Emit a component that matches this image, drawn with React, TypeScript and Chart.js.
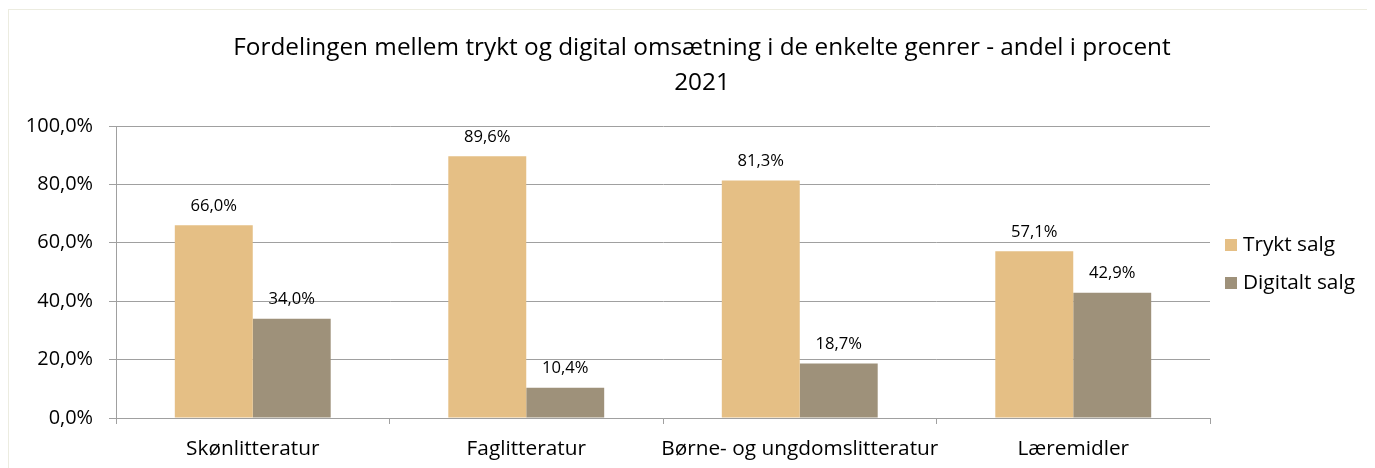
import React, { useEffect, useRef } from "react";
import { Chart, registerables } from "chart.js";

Chart.register(...registerables);

const titleLines = [
  "Fordelingen mellem trykt og digital omsætning i de enkelte genrer - andel i procent",
  "2021",
];
const categories = ["Skønlitteratur", "Faglitteratur", "Børne- og ungdomslitteratur", "Læremidler"];
const seriesNames = ["Trykt salg", "Digitalt salg"];
const tryktSalg = [66.0, 89.6, 81.3, 57.1];
const digitaltSalg = [34.0, 10.4, 18.7, 42.9];
const seriesColors = ["#E5BF85", "#9E917A"];
const yTicks = [0, 20, 40, 60, 80, 100];

const FONT = "'Open Sans', sans-serif";
const fmt = (v: number) => v.toFixed(1).replace(".", ",") + "%";

function fitScale(): number {
  const c = document.createElement("canvas").getContext("2d")!;
  c.font = `22px ${FONT}`;
  const w = c.measureText(titleLines[0]).width;
  return w > 0 ? 938 / w : 0.88;
}

export default function App() {
  const ref = useRef<HTMLCanvasElement>(null);
  useEffect(() => {
    document.body.style.overflow = "hidden";
    const r = fitScale();
    const sTitle = 22 * r;
    const sTick = 18 * r;
    const sCat = 18.8 * r;
    const sLegend = 18.8 * r;
    const sLabel = 15 * r;

    const decorPlugin = {
      id: "decor",
      afterDraw(chart: any) {
        const ctx = chart.ctx;
        ctx.save();
        ctx.fillStyle = "#000";
        ctx.textAlign = "center";
        ctx.textBaseline = "middle";
        ctx.font = `${sTitle}px ${FONT}`;
        ctx.fillText(titleLines[0], 693, 38);
        ctx.fillText(titleLines[1], 693, 73);
        ctx.font = `${sLabel}px ${FONT}`;
        chart.data.datasets.forEach((ds: any, i: number) => {
          const meta = chart.getDatasetMeta(i);
          meta.data.forEach((bar: any, j: number) => {
            ctx.fillText(fmt(ds.data[j]), bar.x, bar.y - 19);
          });
        });
        ctx.textAlign = "left";
        ctx.font = `${sLegend}px ${FONT}`;
        const legendY = [235, 273];
        seriesNames.forEach((name, i) => {
          ctx.fillStyle = seriesColors[i];
          ctx.fillRect(1216, legendY[i] - 6, 12, 12);
          ctx.fillStyle = "#000";
          ctx.fillText(name, 1234, legendY[i]);
        });
        ctx.restore();
      },
    };

    const chart = new Chart(ref.current!, {
      type: "bar",
      data: {
        labels: categories,
        datasets: [
          { label: seriesNames[0], data: tryktSalg, backgroundColor: seriesColors[0], barPercentage: 1, categoryPercentage: 0.57 },
          { label: seriesNames[1], data: digitaltSalg, backgroundColor: seriesColors[1], barPercentage: 1, categoryPercentage: 0.57 },
        ],
      },
      options: {
        animation: false,
        responsive: false,
        layout: { padding: { top: 116, right: 165, left: 0, bottom: 0 } },
        plugins: { legend: { display: false }, title: { display: false }, tooltip: { enabled: false } },
        scales: {
          x: {
            afterFit: (s: any) => { s.height = 50; },
            grid: { display: true, drawOnChartArea: false, offset: true, tickLength: 6, color: "#A0A0A0" },
            border: { color: "#A0A0A0" },
            ticks: { color: "#000", font: { family: FONT, size: sCat }, padding: 13, maxRotation: 0, minRotation: 0, autoSkip: false },
          },
          y: {
            min: 0,
            max: 100,
            afterFit: (s: any) => { s.width = 107; },
            afterBuildTicks: (s: any) => { s.ticks = yTicks.map((v) => ({ value: v })); },
            grid: { color: "#A0A0A0", tickLength: 7 },
            border: { color: "#A0A0A0" },
            ticks: { color: "#000", font: { family: FONT, size: sTick }, padding: 16, callback: (v: any) => fmt(Number(v)) },
          },
        },
      },
      plugins: [decorPlugin],
    });
    return () => chart.destroy();
  }, []);
  return (
    <div style={{ marginTop: 1, width: 1366, height: 458, borderTop: "1px solid #ECECE0", borderLeft: "1px solid #ECECE0" }}>
      <canvas ref={ref} width={1366} height={458} style={{ display: "block" }} />
    </div>
  );
}
